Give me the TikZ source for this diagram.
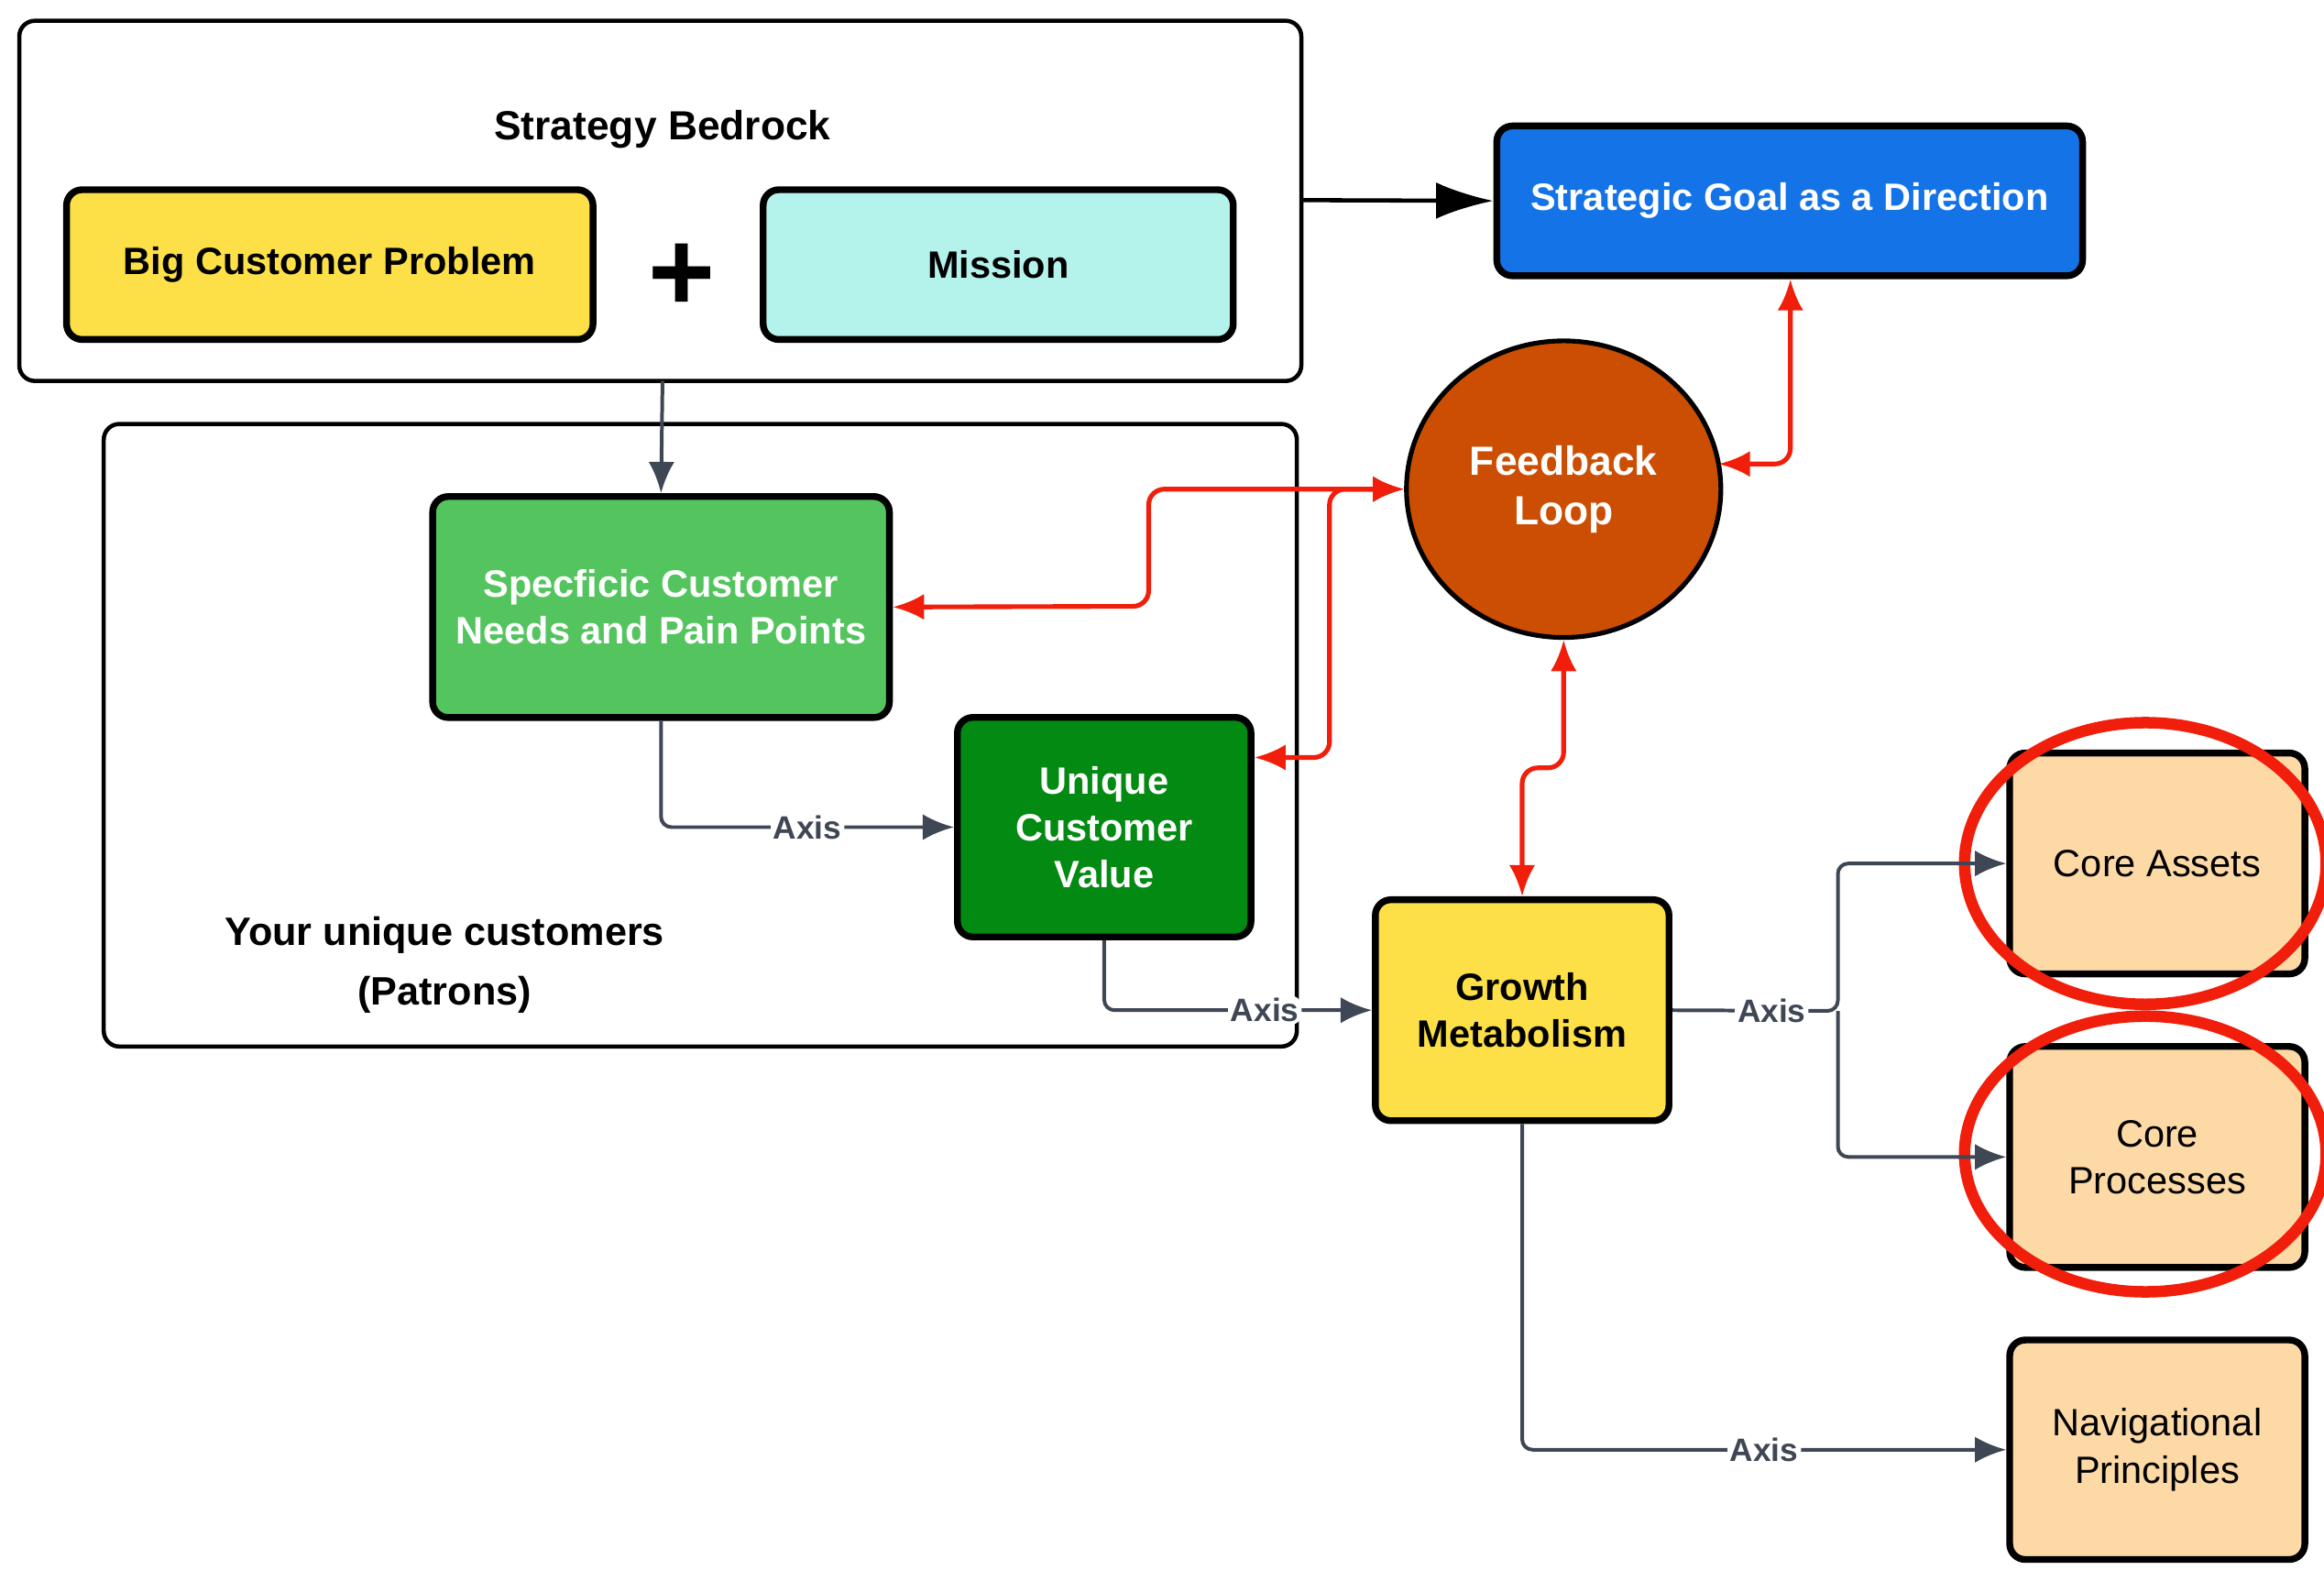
\documentclass[tikz,border=0pt]{standalone}
\usepackage{fontspec}
\setmainfont{Liberation Sans}
\usetikzlibrary{shapes,arrows.meta,positioning}
\definecolor{bedyellow}{HTML}{FDE047}
\definecolor{mint}{HTML}{B4F3EC}
\definecolor{goalblue}{HTML}{1473E6}
\definecolor{needgreen}{HTML}{54C45E}
\definecolor{valgreen}{HTML}{038A12}
\definecolor{loopred}{HTML}{CB4E02}
\definecolor{peach}{HTML}{FCD9A5}
\definecolor{axisgray}{HTML}{3F4654}
\definecolor{ringred}{HTML}{F01E0A}
\tikzset{
  box/.style={draw=black,line width=1.3pt,rounded corners=3pt,align=center,font=\fontsize{7.3}{9}\selectfont\bfseries},
  frame/.style={draw=black,line width=0.8pt,rounded corners=3pt},
  axis/.style={draw=axisgray,line width=0.7pt,-{Latex[length=6pt,width=5pt]},rounded corners=2pt},
  fb/.style={draw=ringred,line width=0.9pt,{Latex[length=6pt,width=5pt]}-{Latex[length=6pt,width=5pt]},rounded corners=3pt},
  lbl/.style={fill=white,inner sep=0.5pt,text=axisgray,font=\fontsize{6.2}{7}\selectfont\bfseries}
}
\begin{document}
\begin{tikzpicture}[x=0.01cm,y=-0.01cm]
\useasboundingbox (0,0) rectangle (1568,1066);
				% Frames
				\draw[frame] (13,14) rectangle (878,257);
				\node[font=\fontsize{7.8}{9}\selectfont\bfseries] (bedtitle) at (447,87) {Strategy Bedrock};
				\draw[frame] (70,286) rectangle (875,706);
				\node[align=center,font=\fontsize{7.6}{11.5}\selectfont\bfseries] (patrons) at (300,651) {Your unique customers\\(Patrons)};
				\coordinate (bedR) at (878,135);
				\coordinate (bedB) at (447,257);
				
				% Bedrock
				\node[box,fill=bedyellow,minimum width=3.55cm,minimum height=1.01cm] (problem) at (222.5,178.5) {Big Customer Problem};
				\node[box,fill=mint,minimum width=3.17cm,minimum height=1.01cm] (mission) at (673.5,178.5) {Mission};
				\node[font=\fontsize{22}{22}\selectfont\bfseries] (plus) at (460,187) {+};
				\node[box,fill=goalblue,text=white,minimum width=3.95cm,minimum height=1.01cm] (goal) at (1207.5,135.5) {Strategic Goal as a Direction};
				
				% Customers
				\node[box,fill=needgreen,text=white,minimum width=3.08cm,minimum height=1.49cm] (needs) at (446,409.5) {Specficic Customer\\Needs and Pain Points};
				\node[box,fill=valgreen,text=white,minimum width=1.98cm,minimum height=1.48cm] (value) at (745,558) {Unique\\Customer\\Value};
				\node[ellipse,draw=black,line width=0.9pt,fill=loopred,text=white,minimum width=2.12cm,minimum height=2.0cm,align=center,font=\fontsize{7.8}{9.5}\selectfont\bfseries] (loop) at (1055,330) {Feedback\\Loop};
				\node[box,fill=bedyellow,minimum width=1.98cm,minimum height=1.49cm] (growth) at (1027,681.5) {Growth\\Metabolism};
				
				% Outcomes
				\node[box,fill=peach,font=\fontsize{7.3}{9}\selectfont,minimum width=1.99cm,minimum height=1.49cm] (assets) at (1455.5,582.5) {Core Assets};
				\node[box,fill=peach,font=\fontsize{7.3}{9}\selectfont,minimum width=1.99cm,minimum height=1.49cm] (processes) at (1455.5,780.5) {Core\\Processes};
				\node[box,fill=peach,font=\fontsize{7.3}{9}\selectfont,minimum width=1.99cm,minimum height=1.48cm] (navigation) at (1455.5,978) {Navigational\\Principles};
				\draw[ringred,line width=2.2pt] (assets.center) ++(-8,0) ellipse (122 and 95);
				\draw[ringred,line width=2.2pt] (processes.center) ++(-8,-2) ellipse (122 and 93);
				
				% Black arrows
				\draw[line width=0.8pt,-{Latex[length=11pt,width=7pt]}] (bedR) -- (goal.west);
				\draw[axis] (bedB) -- (needs.north);
				
				% Axis arrows
				\draw[axis] (needs.south) |- node[lbl,pos=0.75] {Axis} (value.west);
				\draw[axis] (value.south) |- node[lbl,pos=0.8] {Axis} (growth.west);
				\draw[axis] (growth.east) -- node[lbl,pos=0.6] {Axis} (1240,682) |- (assets.west);
				\draw[axis] (1240,682) |- (processes.west);
				\draw[axis] (growth.south) |- node[lbl,pos=0.75] {Axis} (navigation.west);
				
				% Feedback arrows
				\draw[fb] (needs.east) -- (775,409) -- (775,330) -- (loop.west);
				\draw[fb] (value.east|-0,511) -- (897,511) -- (897,330) -- (loop.west);
				\draw[fb] (loop.east|-0,313) ++(-3,0) -- (1208,313) -- (goal.south-|1208,0);
				\draw[fb] (loop.south) -- (1055,518) -- (1027,518) -- (growth.north);
			\end{tikzpicture}
\end{document}
